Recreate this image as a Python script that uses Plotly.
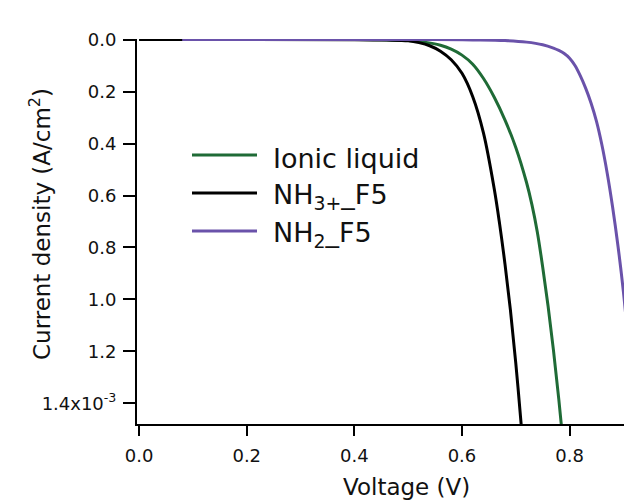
import plotly.graph_objects as go

# ---- data (voltage in V, current density in A/cm^2) ----
v_ionic = [0.0, 0.45, 0.50, 0.53, 0.56, 0.58, 0.60, 0.62, 0.64, 0.66, 0.68, 0.70, 0.72, 0.73, 0.74,
           0.75, 0.76, 0.77, 0.78, 0.79]
j_ionic = [0.0, 0.0005e-3, 0.004e-3, 0.010e-3, 0.022e-3, 0.037e-3, 0.060e-3, 0.095e-3, 0.15e-3, 0.222e-3,
           0.31e-3, 0.415e-3, 0.55e-3, 0.635e-3, 0.74e-3, 0.875e-3, 1.025e-3, 1.195e-3, 1.385e-3, 1.595e-3]

v_nh3 = [0.0, 0.40, 0.46, 0.50, 0.52, 0.54, 0.56, 0.58, 0.60, 0.62, 0.64, 0.66, 0.67, 0.68, 0.69, 0.70,
         0.71, 0.715]
j_nh3 = [0.0, 0.0005e-3, 0.002e-3, 0.005e-3, 0.012e-3, 0.024e-3, 0.045e-3, 0.078e-3, 0.13e-3, 0.22e-3,
         0.36e-3, 0.575e-3, 0.71e-3, 0.865e-3, 1.04e-3, 1.245e-3, 1.48e-3, 1.61e-3]

v_nh2 = [0.08, 0.55, 0.62, 0.68, 0.72, 0.75, 0.77, 0.78, 0.79, 0.80, 0.81, 0.82, 0.83, 0.84, 0.85,
         0.86, 0.87, 0.88, 0.89, 0.90, 0.91, 0.92]
j_nh2 = [0.0, 0.0003e-3, 0.0015e-3, 0.004e-3, 0.010e-3, 0.020e-3, 0.033e-3, 0.042e-3, 0.054e-3, 0.072e-3,
         0.100e-3, 0.140e-3, 0.188e-3, 0.245e-3, 0.315e-3, 0.405e-3, 0.515e-3, 0.645e-3, 0.795e-3,
         0.97e-3, 1.19e-3, 1.45e-3]

series_names = ["Ionic liquid", "NH<sub>3+</sub>_F5", "NH<sub>2</sub>_F5"]
series_colors = ["#1f6b36", "#000000", "#6a52aa"]

x_tickvals = [0.0, 0.2, 0.4, 0.6, 0.8]
x_ticktext = ["0.0", "0.2", "0.4", "0.6", "0.8"]
y_tickvals = [0.0, 0.2e-3, 0.4e-3, 0.6e-3, 0.8e-3, 1.0e-3, 1.2e-3, 1.4e-3]
y_ticktext = ["0.0", "0.2", "0.4", "0.6", "0.8", "1.0", "1.2", "1.4x10<sup>-3</sup>"]

# ---- layout geometry (pixels, reference coordinates; page body has an 8px margin) ----
OFF = 8
W, H = 632 - OFF, 502 - OFF
PLOT_L, PLOT_T, PLOT_B = 137, 39, 424          # in reference pixels
X_MIN = -0.004
X_PER_PX = 0.92 / 495                          # voltage per pixel in the reference
L = PLOT_L - OFF
T = PLOT_T - OFF
B = H - (PLOT_B - OFF)
R = 0
PW, PH = W - L - R, H - T - B
X_MAX = X_MIN + PW * X_PER_PX


def px_x(px):
    return (px - OFF - L) / PW


def px_y(py):
    return (H - B - (py - OFF)) / PH


FONT = "DejaVu Sans"

fig = go.Figure()
for v, j, name, col in zip([v_ionic, v_nh3, v_nh2], [j_ionic, j_nh3, j_nh2], series_names, series_colors):
    fig.add_trace(go.Scatter(x=v, y=j, mode="lines", name=name,
                             line=dict(color=col, width=3, shape="spline", smoothing=1.0),
                             showlegend=False))

shapes = []
annotations = []

# manual legend (long line samples as in the reference)
legend_rows = [155, 193, 231]
for name, col, ry in zip(series_names, series_colors, legend_rows):
    shapes.append(dict(type="line", xref="paper", yref="paper", x0=px_x(192), x1=px_x(257),
                       y0=px_y(ry), y1=px_y(ry), line=dict(color=col, width=3)))
    annotations.append(dict(text=name, xref="paper", yref="paper", x=px_x(271), y=px_y(ry + 3),
                            xanchor="left", yanchor="middle", showarrow=False,
                            font=dict(family=FONT, size=27, color="#111111")))

# axis titles
annotations.append(dict(text="Voltage (V)", xref="paper", yref="paper", x=px_x(406), y=px_y(487),
                        xanchor="center", yanchor="middle", showarrow=False,
                        font=dict(family=FONT, size=23, color="#111111")))
annotations.append(dict(text="Current density (A/cm<sup>2</sup>)", xref="paper", yref="paper",
                        x=px_x(40), y=px_y(224), xanchor="center", yanchor="middle", textangle=-90,
                        showarrow=False, font=dict(family=FONT, size=23, color="#111111")))

fig.update_layout(
    width=W, height=H,
    margin=dict(l=L, r=R, t=T, b=B, pad=0),
    paper_bgcolor="white", plot_bgcolor="white",
    font=dict(family=FONT, size=18, color="#111111"),
    shapes=shapes, annotations=annotations,
    showlegend=False,
)
fig.update_xaxes(range=[X_MIN, X_MAX], tickvals=x_tickvals, ticktext=x_ticktext,
                 showline=True, linecolor="black", linewidth=2, mirror=False,
                 ticks="outside", ticklen=10, tickwidth=2, tickcolor="black",
                 ticklabelstandoff=4,
                 showgrid=False, zeroline=False, tickfont=dict(family=FONT, size=18, color="#111111"))
fig.update_yaxes(range=[1.479e-3, -0.002e-3], tickvals=y_tickvals, ticktext=y_ticktext,
                 showline=True, linecolor="black", linewidth=2, mirror=False,
                 ticks="outside", ticklen=12, tickwidth=2, tickcolor="black",
                 ticklabelstandoff=3,
                 showgrid=False, zeroline=False, tickfont=dict(family=FONT, size=18, color="#111111"))

fig.write_html("out.html")
